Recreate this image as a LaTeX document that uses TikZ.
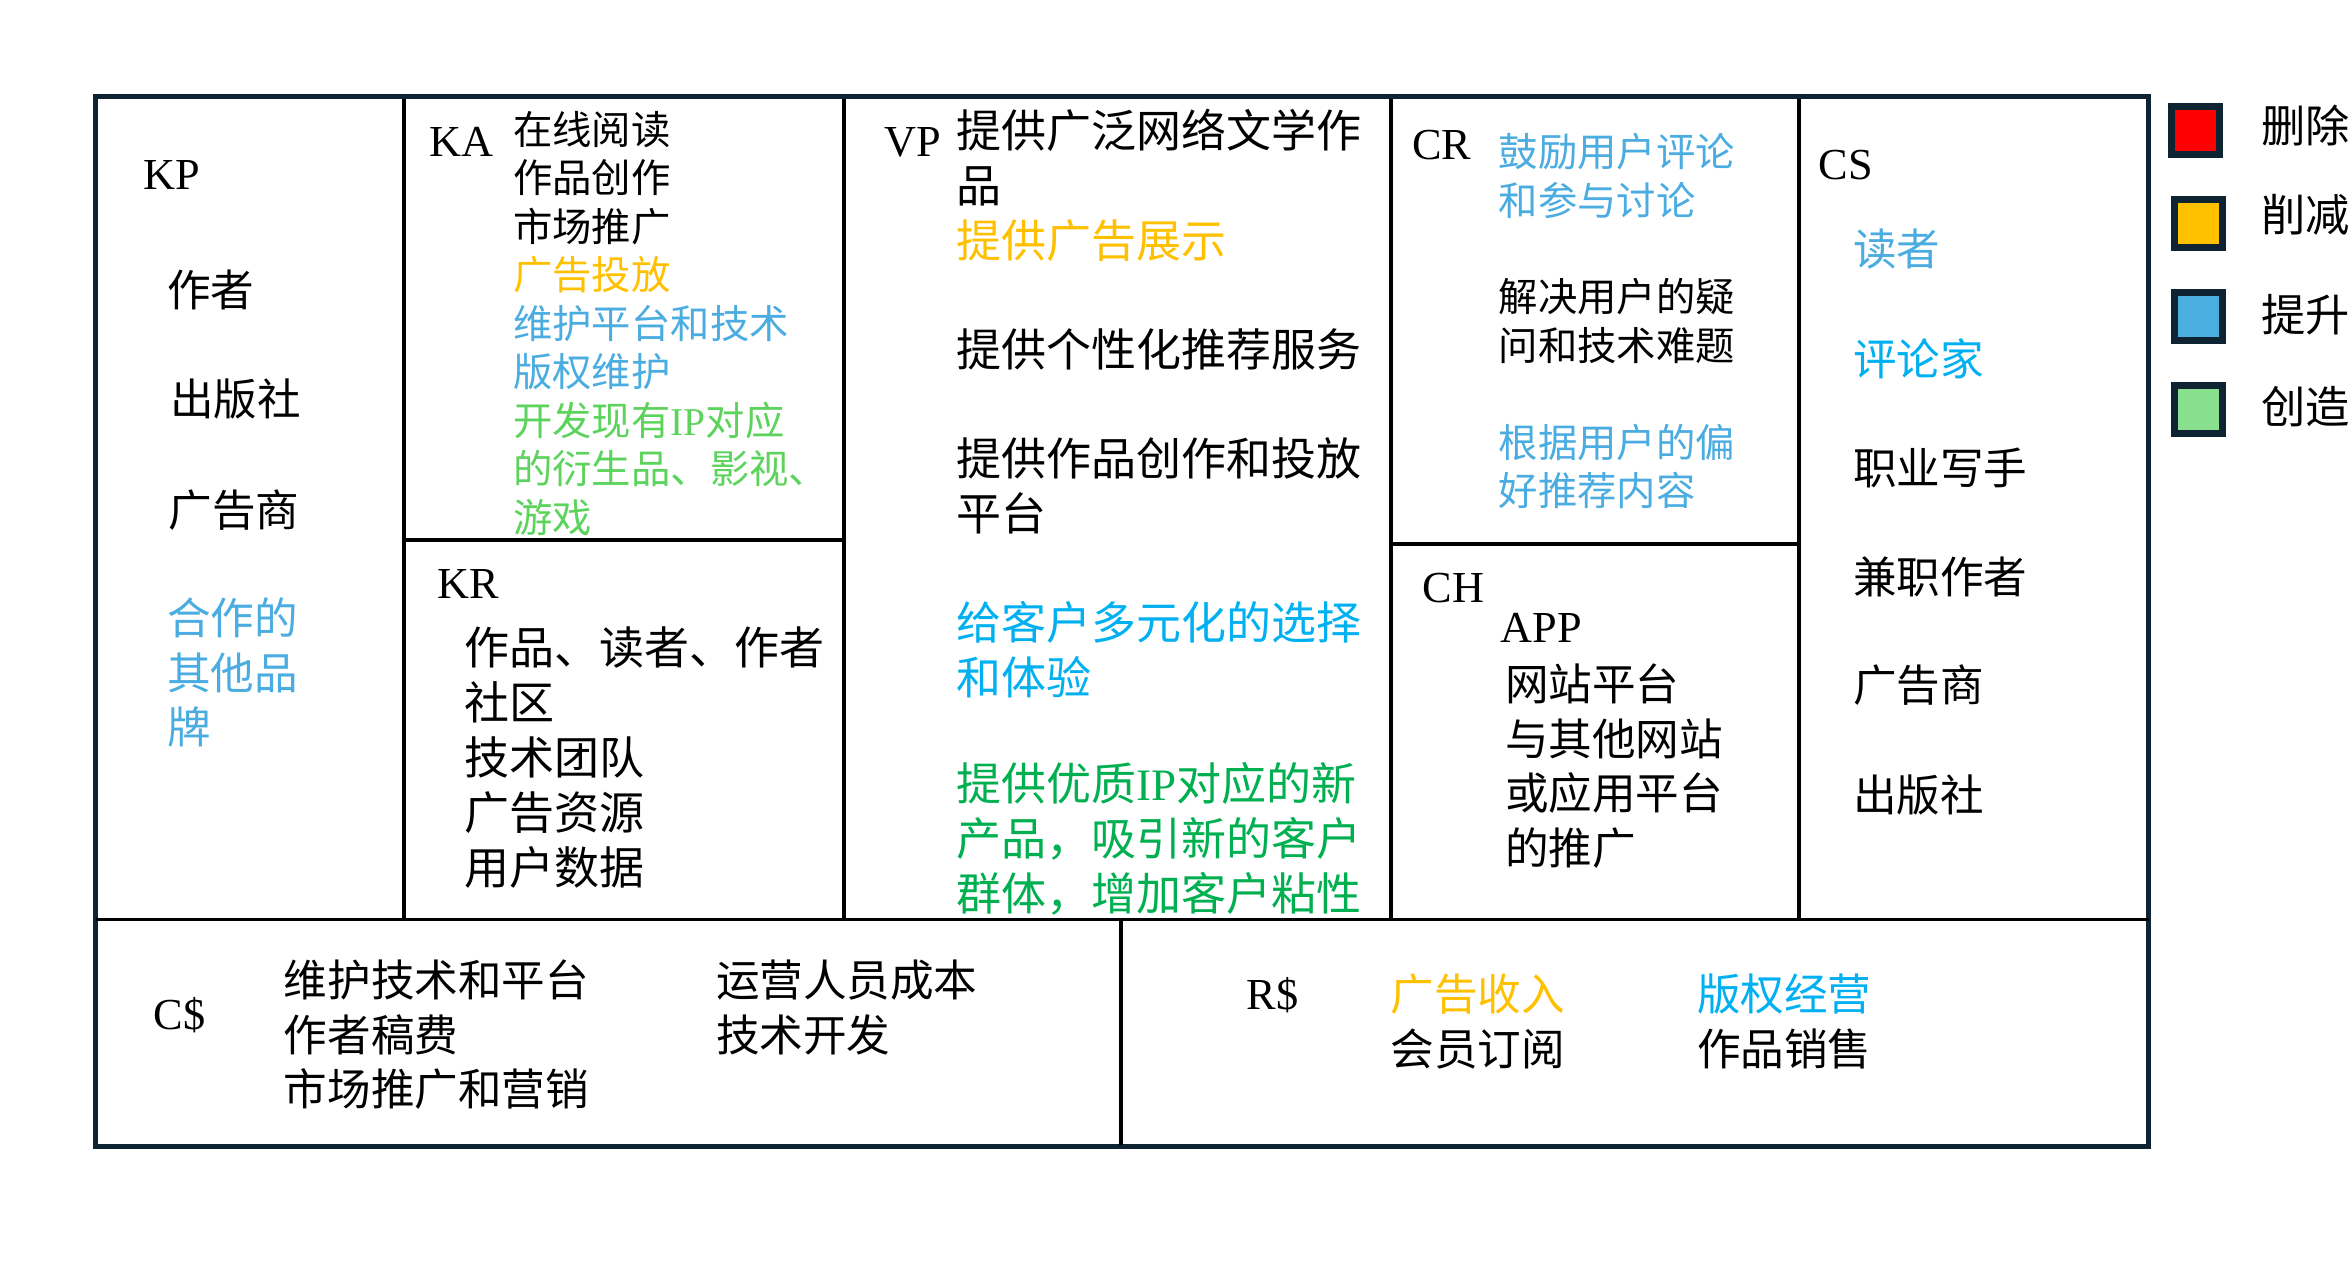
\documentclass[tikz,border=0pt]{standalone}
\usepackage{fontspec}
\setmainfont{Liberation Serif}
\newfontfamily\cjk{Noto Sans CJK SC}
\definecolor{framenavy}{HTML}{0E2433}
\definecolor{cutorange}{HTML}{FFC000}
\definecolor{liftblue}{HTML}{4AACE0}
\definecolor{liftcyan}{HTML}{00B0F0}
\definecolor{newgreen}{HTML}{5CD35C}
\definecolor{newdkgreen}{HTML}{00B050}
\definecolor{keygreen}{HTML}{88E08E}
\definecolor{keyblue}{HTML}{4AAEE0}
\tikzset{
  frame/.style={draw=framenavy,line width=1.6pt},
  divider/.style={line width=1.1pt},
  blockname/.style={anchor=west,inner sep=0pt,font=\fontsize{12.6}{15}\selectfont},
  smalltext/.style={anchor=west,inner sep=0pt,align=left,font=\cjk\fontsize{11.2}{13.8}\selectfont},
  midtext/.style={anchor=west,inner sep=0pt,align=left,font=\cjk\fontsize{12.4}{15.5}\selectfont},
  bigtext/.style={anchor=west,inner sep=0pt,align=left,font=\cjk\fontsize{12.8}{15.6}\selectfont},
  keybox/.style={draw=framenavy,line width=2pt,minimum size=0.48cm,inner sep=0pt},
  keytext/.style={anchor=west,inner sep=0pt,font=\cjk\fontsize{12.6}{15}\selectfont}
}
\begin{document}
\begin{tikzpicture}[x=0.015cm,y=-0.015cm]
  \useasboundingbox (0,0) rectangle (1568,845.33);

  \draw[frame] (63.7,64.3) rectangle (1432.4,764.4);
  \draw[divider] (63.7,613) -- (1432.4,613);
  \draw[divider] (269.5,66) -- (269.5,613);
  \draw[divider] (562.5,66) -- (562.5,613);
  \draw[divider] (927.6,66) -- (927.6,613);
  \draw[divider] (1199.5,66) -- (1199.5,613);
  \draw[divider] (747.4,613) -- (747.4,763);
  \draw[divider] (269.5,360.2) -- (562.5,360.2);
  \draw[divider] (927.6,362.7) -- (1199.5,362.7);

  \node[blockname] (kp) at (95,116.5) {KP};
  \node[midtext] (kp1) at (111,193) {作者};
  \node[midtext] (kp2) at (113,266) {出版社};
  \node[midtext] (kp3) at (112,340) {广告商};
  \node[midtext,text=liftblue] (kp4) at (111,448.5) {合作的\\其他品\\牌};

  \node[blockname] (ka) at (286,94.9) {KA};
  \node[smalltext] (kalist) at (341.7,215.4) {在线阅读\\作品创作\\市场推广\\
    {\color{cutorange}广告投放}\\{\color{liftblue}维护平台和技术}\\{\color{liftblue}版权维护}\\
    {\color{newgreen}开发现有{\rmfamily IP}对应}\\{\color{newgreen}的衍生品、影视、}\\{\color{newgreen}游戏}};

  \node[blockname] (kr) at (291,389.5) {KR};
  \node[bigtext] (krlist) at (309,505) {作品、读者、作者\\社区\\技术团队\\广告资源\\用户数据};

  \node[blockname] (vp) at (589,94.9) {VP};
  \node[bigtext] (vp1) at (637.4,123.7) {提供广泛网络文学作\\品\\{\color{cutorange}提供广告展示}};
  \node[bigtext] (vp2) at (637.4,232.6) {提供个性化推荐服务};
  \node[bigtext] (vp3) at (637.4,323.8) {提供作品创作和投放\\平台};
  \node[bigtext,text=liftcyan] (vp4) at (637.4,433) {给客户多元化的选择\\和体验};
  \node[bigtext,text=newdkgreen] (vp5) at (637.4,559.3) {提供优质{\rmfamily IP}对应的新\\产品，吸引新的客户\\群体，增加客户粘性};

  \node[blockname] (cr) at (941,96.6) {CR};
  \node[smalltext,text=liftblue] (cr1) at (998.7,117.2) {鼓励用户评论\\和参与讨论};
  \node[smalltext] (cr2) at (998.7,214) {解决用户的疑\\问和技术难题};
  \node[smalltext,text=liftblue] (cr3) at (998.7,311) {根据用户的偏\\好推荐内容};

  \node[blockname] (ch) at (948,392) {CH};
  \node[blockname] (chapp) at (1000,418.7) {APP};
  \node[midtext] (chlist) at (1003,510.8) {网站平台\\与其他网站\\或应用平台\\的推广};

  \node[blockname] (cs) at (1212,110) {CS};
  \node[midtext,text=liftblue] (cs1) at (1235,166.3) {读者};
  \node[midtext,text=liftcyan] (cs2) at (1235,239) {评论家};
  \node[midtext] (cs3) at (1235,311.7) {职业写手};
  \node[midtext] (cs4) at (1235,384.4) {兼职作者};
  \node[midtext] (cs5) at (1235,457) {广告商};
  \node[midtext] (cs6) at (1235,530) {出版社};

  \node[blockname] (cost) at (102,676.7) {C\$};
  \node[midtext] (cost1) at (188.8,690) {维护技术和平台\\作者稿费\\市场推广和营销};
  \node[midtext] (cost2) at (476.9,671.7) {运营人员成本\\技术开发};

  \node[blockname] (rev) at (830.7,663.3) {R\$};
  \node[midtext] (rev1) at (926.5,681) {{\color{cutorange}广告收入}\\会员订阅};
  \node[midtext] (rev2) at (1130.9,681) {{\color{liftcyan}版权经营}\\作品销售};

  \node[keybox,fill=red] (keydel) at (1463.5,87.2) {};
  \node[keybox,fill=cutorange] (keycut) at (1465.5,148.9) {};
  \node[keybox,fill=keyblue] (keylift) at (1465.5,211.3) {};
  \node[keybox,fill=keygreen] (keynew) at (1465.5,273.2) {};
  \node[keytext] (keydeltext) at (1507,83.5) {删除};
  \node[keytext] (keycuttext) at (1507,143.3) {削减};
  \node[keytext] (keylifttext) at (1507,209.7) {提升};
  \node[keytext] (keynewtext) at (1507,270.9) {创造};
\end{tikzpicture}
\end{document}
